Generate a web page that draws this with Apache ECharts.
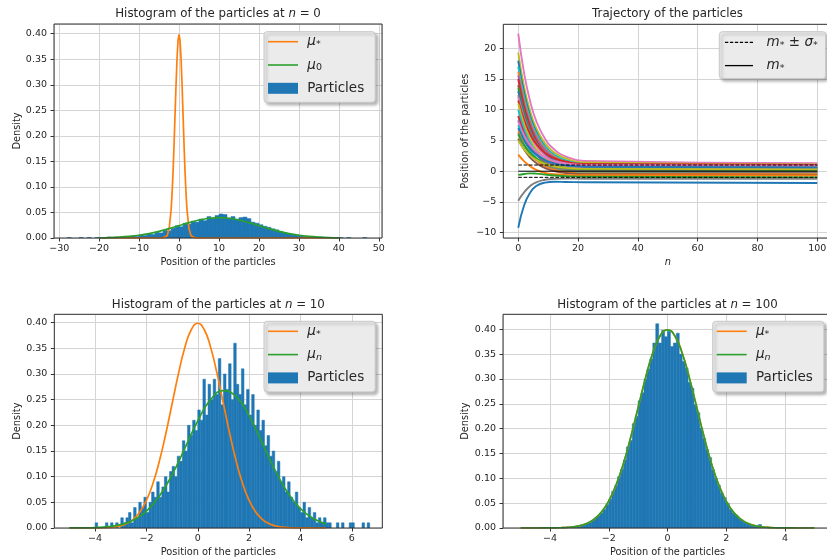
<!DOCTYPE html>
<html>
<head>
<meta charset="utf-8">
<script src="https://cdn.jsdelivr.net/npm/echarts@6/dist/echarts.min.js"></script>
<style>
  html, body { margin: 0; padding: 0; background: #fff; }
  #chart { width: 827px; height: 557px; }
</style>
</head>
<body>
<div id="chart"></div>
<script>
// ---------- data ----------

// top left: particles at n = 0 (bins of width 1 starting at -28)
const tlBinStart = -28;
const tlBinWidth = 1;
const tlHeights = [
  0.001, 0, 0, 0.001, 0, 0.001, 0, 0.001, 0.001, 0,
  0.002, 0.001, 0.002, 0.001, 0.003, 0.002, 0.004, 0.003, 0.006, 0.005,
  0.008, 0.007, 0.011, 0.010, 0.015, 0.014, 0.019, 0.024, 0.022, 0.029,
  0.027, 0.033, 0.031, 0.037, 0.034, 0.042, 0.038, 0.044, 0.047, 0.046,
  0.039, 0.042, 0.037, 0.040, 0.041, 0.038, 0.031, 0.029, 0.026, 0.023,
  0.021, 0.018, 0.016, 0.013, 0.011, 0.009, 0.007, 0.006, 0.005, 0.003,
  0.003, 0.002, 0.001, 0.002, 0.001, 0, 0.001, 0, 0.001, 0,
  0.001, 0, 0, 0, 0.001
];
const tlStarX = [-20, -10, -5, -4, -3.5, -3, -2.5, -2, -1.75, -1.5, -1.25, -1, -0.75, -0.5, -0.25, 0,
  0.25, 0.5, 0.75, 1, 1.25, 1.5, 1.75, 2, 2.5, 3, 3.5, 4, 5, 10, 20, 30, 40];
const tlStarY = [0, 0, 0, 0.0001, 0.0009, 0.0044, 0.0175, 0.054, 0.0863, 0.1295, 0.1826, 0.242, 0.3011, 0.3521, 0.3867, 0.3989,
  0.3867, 0.3521, 0.3011, 0.242, 0.1826, 0.1295, 0.0863, 0.054, 0.0175, 0.0044, 0.0009, 0.0001, 0, 0, 0, 0, 0];
const tlMu0X = [-20, -17.5, -15, -12.5, -10, -7.5, -5, -2.5, 0, 2.5, 5, 7.5, 10,
  12.5, 15, 17.5, 20, 22.5, 25, 27.5, 30, 32.5, 35, 37.5, 40];
const tlMu0Y = [0.0004, 0.0009, 0.0018, 0.0032, 0.0054, 0.0086, 0.0130, 0.0183, 0.0242, 0.0301, 0.0352, 0.0387, 0.0399,
  0.0387, 0.0352, 0.0301, 0.0242, 0.0183, 0.0130, 0.0086, 0.0054, 0.0032, 0.0018, 0.0009, 0.0004];

// bottom left: particles at n = 10 (bins of width 0.1 starting at -4)
const blBinStart = -4;
const blBinWidth = 0.1;
const blHeights = [
  0.01, 0, 0, 0, 0.01, 0, 0.01, 0, 0.01, 0,
  0.02, 0.01, 0.02, 0.03, 0.01, 0.04, 0.02, 0.05, 0.04, 0.06,
  0.03, 0.05, 0.07, 0.06, 0.09, 0.06, 0.08, 0.10, 0.07, 0.11,
  0.12, 0.10, 0.14, 0.13, 0.17, 0.15, 0.20, 0.18, 0.21, 0.19,
  0.23, 0.21, 0.29, 0.22, 0.28, 0.25, 0.29, 0.26, 0.33, 0.24,
  0.30, 0.27, 0.32, 0.25, 0.36, 0.28, 0.26, 0.31, 0.24, 0.27,
  0.22, 0.26, 0.20, 0.23, 0.19, 0.21, 0.16, 0.18, 0.14, 0.15,
  0.11, 0.13, 0.09, 0.10, 0.07, 0.09, 0.06, 0.05, 0.07, 0.04,
  0.03, 0.05, 0.02, 0.04, 0.02, 0.03, 0.01, 0.02, 0.01, 0.02,
  0.01, 0.01, 0, 0, 0.01, 0, 0.01, 0, 0, 0.01,
  0.01, 0, 0, 0, 0.01, 0, 0.01
];
const starX = [-5, -4.75, -4.5, -4.25, -4, -3.75, -3.5, -3.25, -3, -2.75, -2.5, -2.25, -2, -1.75, -1.5, -1.25, -1, -0.75, -0.5, -0.25, 0,
  0.25, 0.5, 0.75, 1, 1.25, 1.5, 1.75, 2, 2.25, 2.5, 2.75, 3, 3.25, 3.5, 3.75, 4, 4.25, 4.5, 4.75, 5];
const starY = [0, 0, 0, 0.0001, 0.0001, 0.0004, 0.0009, 0.002, 0.0044, 0.0091, 0.0175, 0.0317, 0.054, 0.0863, 0.1295, 0.1826, 0.242, 0.3011, 0.3521, 0.3867, 0.3989,
  0.3867, 0.3521, 0.3011, 0.242, 0.1826, 0.1295, 0.0863, 0.054, 0.0317, 0.0175, 0.0091, 0.0044, 0.002, 0.0009, 0.0004, 0.0001, 0.0001, 0, 0, 0];
const blMuNX = [-5, -4.5, -4, -3.5, -3, -2.5, -2, -1.5, -1, -0.5, 0, 0.5, 1, 1.5, 2, 2.5, 3, 3.5, 4, 4.5, 5];
const blMuNY = [0.0001, 0.0003, 0.0009, 0.0025, 0.0067, 0.0157, 0.033, 0.0619, 0.1039, 0.1558, 0.2088, 0.2501, 0.2675,
  0.2558, 0.2184, 0.1667, 0.1137, 0.0693, 0.0377, 0.0184, 0.008];

// bottom right: particles at n = 100 (bins of width 0.1 starting at -4)
const brBinStart = -4;
const brBinWidth = 0.1;
const brHeights = [
  0, 0, 0, 0, 0.002,
  0.001, 0.002, 0.003, 0.002, 0.004,
  0.005, 0.007, 0.008, 0.010, 0.014,
  0.020, 0.024, 0.030, 0.037, 0.047,
  0.058, 0.074, 0.085, 0.103, 0.118,
  0.137, 0.163, 0.176, 0.210, 0.225,
  0.256, 0.272, 0.300, 0.320, 0.340,
  0.372, 0.411, 0.372, 0.398, 0.385,
  0.396, 0.365, 0.372, 0.392, 0.350,
  0.335, 0.322, 0.293, 0.281, 0.248,
  0.232, 0.201, 0.180, 0.158, 0.142,
  0.117, 0.100, 0.086, 0.070, 0.061,
  0.050, 0.037, 0.030, 0.026, 0.019,
  0.016, 0.011, 0.009, 0.006, 0.005,
  0.004, 0.007, 0.002
];
const brMuNY = [0, 0, 0, 0.0001, 0.0001, 0.0004, 0.0009, 0.002, 0.0045, 0.0092, 0.0177, 0.032, 0.0544, 0.0868, 0.13, 0.1831, 0.2425, 0.3015, 0.3524, 0.3868, 0.3988,
  0.3864, 0.3516, 0.3005, 0.2414, 0.182, 0.129, 0.0858, 0.0536, 0.0314, 0.0173, 0.009, 0.0043, 0.002, 0.0009, 0.0004, 0.0001, 0.0001, 0, 0, 0];

// top right: trajectories sampled at these steps
const trajSteps = [0, 2, 4, 6, 9, 12, 16, 22, 100];
const trajValues = [
  [22.4, 15.84, 11.32, 8.20, 5.25, 3.56, 2.38, 1.66, 1.3],
  [19.3, 13.64, 9.75, 7.05, 4.50, 3.05, 2.03, 1.41, 1.1],
  [18.0, 12.65, 8.97, 6.42, 4.02, 2.64, 1.68, 1.09, 0.8],
  [17.0, 11.99, 8.55, 6.16, 3.91, 2.62, 1.72, 1.17, 0.9],
  [16.2, 11.38, 8.06, 5.77, 3.60, 2.36, 1.49, 0.96, 0.7],
  [15.6, 10.94, 7.73, 5.51, 3.41, 2.21, 1.37, 0.86, 0.6],
  [15.0, 10.40, 7.23, 5.04, 2.97, 1.78, 0.95, 0.45, 0.2],
  [14.0, 9.61, 6.60, 4.51, 2.54, 1.41, 0.62, 0.14, -0.1],
  [13.5, 9.43, 6.62, 4.68, 2.85, 1.80, 1.07, 0.62, 0.4],
  [13.0, 9.11, 6.44, 4.59, 2.84, 1.84, 1.14, 0.71, 0.5],
  [12.4, 8.79, 6.31, 4.59, 2.97, 2.04, 1.39, 1.00, 0.8],
  [12.0, 8.36, 5.86, 4.13, 2.49, 1.55, 0.90, 0.50, 0.3],
  [11.5, 8.23, 5.99, 4.43, 2.96, 2.12, 1.54, 1.18, 1.0],
  [11.0, 7.58, 5.23, 3.60, 2.06, 1.18, 0.56, 0.19, 0.0],
  [10.0, 6.83, 4.65, 3.14, 1.71, 0.89, 0.32, -0.03, -0.2],
  [9.0, 6.11, 4.12, 2.74, 1.44, 0.70, 0.17, -0.14, -0.3],
  [8.3, 5.75, 4.00, 2.78, 1.63, 0.98, 0.52, 0.24, 0.1],
  [8.0, 5.79, 4.27, 3.22, 2.23, 1.66, 1.26, 1.02, 0.9],
  [7.5, 5.04, 3.35, 2.18, 1.08, 0.45, 0.00, -0.27, -0.4],
  [7.0, 5.01, 3.64, 2.69, 1.80, 1.28, 0.93, 0.71, 0.6],
  [6.5, 4.32, 2.83, 1.79, 0.81, 0.25, -0.14, -0.38, -0.5],
  [6.2, 4.24, 2.89, 1.96, 1.08, 0.57, 0.22, 0.01, -0.1],
  [6.0, 4.20, 2.96, 2.10, 1.28, 0.82, 0.50, 0.30, 0.2],
  [5.3, 3.47, 2.20, 1.33, 0.50, 0.03, -0.30, -0.50, -0.6],
  [5.0, 3.54, 2.53, 1.84, 1.18, 0.80, 0.54, 0.38, 0.3],
  [2.7, 1.6, 0.8, 0.2, -0.3, -0.5, -0.6, -0.65, -0.7],
  [-0.6, -0.45, -0.35, -0.4, -0.55, -0.7, -0.8, -0.9, -1.0],
  [-4.8, -3.4, -2.4, -1.8, -1.4, -1.25, -1.2, -1.22, -1.25],
  [-9.2, -5.5, -3.5, -2.4, -1.85, -1.72, -1.75, -1.8, -1.92]
];
const trajColorIdx = [6, 8, 0, 9, 1, 4, 3, 5, 2, 0, 7, 6, 3, 8, 9, 3, 4, 6, 9, 0, 1, 7, 2, 5, 8, 1, 2, 7, 0];
const mStar = 0;
const sigmaStar = 1;
const stepRange = [0, 100];

// ---------- styling ----------
const FONT = 'DejaVu Sans';
const TEXT = '#262626';
const BLUE = '#1f77b4', ORANGE = '#ff7f0e', GREEN = '#2ca02c';
const tab10 = ['#1f77b4', '#ff7f0e', '#2ca02c', '#d62728', '#9467bd',
  '#8c564b', '#e377c2', '#7f7f7f', '#bcbd22', '#17becf'];

const LINE_ICON = 'path://M0,0H30V1.6H0Z';
const RECT_ICON = 'path://M0,0H30V11H0Z';
const SOLID_ICON = 'path://M0,0H28V1.3H0Z';
const DASH_ICON = 'path://M0,0h3.2v1.2h-3.2z M4.8,0h3.2v1.2h-3.2z M9.6,0h3.2v1.2h-3.2z M14.4,0h3.2v1.2h-3.2z M19.2,0h3.2v1.2h-3.2z M24,0h3.2v1.2h-3.2z';

const minus = v => (v < 0 ? '\u2212' + Math.abs(v) : String(v));
const twoDec = v => v.toFixed(2);

const pairs = (xs, ys) => xs.map((x, i) => [x, ys[i]]);
const bins = (start, width, heights) =>
  heights.map((h, i) => [start + i * width, start + (i + 1) * width, h]);

const grids = [
  { left: 54, top: 24, width: 328, height: 214 },
  { left: 503.3, top: 24.3, width: 328.9, height: 213.7 },
  { left: 54.3, top: 314.3, width: 328, height: 213.7 },
  { left: 503, top: 314.3, width: 329, height: 213.7 }
];

function makeAxis(gridIndex, dim, min, max, step, opts) {
  const isX = dim === 'x';
  return {
    type: 'value', gridIndex, min, max,
    minInterval: step, maxInterval: step,
    axisLine: { show: false, onZero: false },
    axisTick: { show: true, length: 3.5, lineStyle: { color: '#333', width: 1 } },
    axisLabel: {
      color: TEXT, fontFamily: FONT, fontSize: 9.5,
      margin: isX ? 6 : 7,
      formatter: opts.fmt,
      showMinLabel: opts.showMin,
      showMaxLabel: false
    },
    splitLine: { show: true, lineStyle: { color: '#d4d4d4', width: 1 } },
    name: opts.name,
    nameLocation: 'middle',
    nameGap: opts.gap,
    nameTextStyle: {
      color: TEXT, fontFamily: FONT, fontSize: 9.8,
      fontStyle: opts.italic ? 'italic' : 'normal'
    }
  };
}

function histSeries(name, idx, data) {
  return {
    type: 'custom', name, xAxisIndex: idx, yAxisIndex: idx,
    itemStyle: { color: BLUE }, silent: true, clip: true, z: 2,
    encode: { x: [0, 1], y: 2 },
    renderItem: (params, api) => {
      const a = api.coord([api.value(0), api.value(2)]);
      const b = api.coord([api.value(1), 0]);
      if (b[1] - a[1] <= 0) return null;
      return {
        type: 'rect',
        shape: { x: a[0], y: a[1], width: b[0] - a[0], height: b[1] - a[1] },
        style: { fill: BLUE, stroke: BLUE, lineWidth: 0.5 }
      };
    },
    data
  };
}

function lineSeries(name, idx, data, color, opts) {
  opts = opts || {};
  return {
    type: 'line', name, xAxisIndex: idx, yAxisIndex: idx, data,
    symbol: 'none', smooth: opts.smooth || false,
    color, itemStyle: { color },
    lineStyle: { color, width: opts.width || 1.7, type: opts.type || 'solid' },
    silent: true, z: opts.z || 3
  };
}

const legendText = {
  tlStar: '{t| }{g|μ}{s|*}', tlMu: '{t| }{g|μ}{s|0}', tlPart: '{t| Particles}',
  blStar: '{t| }{g|μ}{s|*}', blMu: '{t| }{g|μ}{si|n}', blPart: '{t| Particles}',
  brStar: '{t| }{g|μ}{s|*}', brMu: '{t| }{g|μ}{si|n}', brPart: '{t| Particles}',
  trBand: '{t|  }{g|m}{s|*}{t| ± }{g|σ}{s|*}', trM: '{t|  }{g|m}{s|*}'
};
const legendRich = {
  t: { fontFamily: FONT, fontSize: 13.5, color: TEXT, lineHeight: 16 },
  g: { fontFamily: FONT, fontSize: 13.5, fontStyle: 'italic', color: TEXT, lineHeight: 16 },
  s: { fontFamily: FONT, fontSize: 9.5, color: TEXT, lineHeight: 10, verticalAlign: 'bottom' },
  si: { fontFamily: FONT, fontSize: 9.5, fontStyle: 'italic', color: TEXT, lineHeight: 10, verticalAlign: 'bottom' }
};

function makeLegend(left, top, data, padding, itemWidth) {
  return {
    left, top, orient: 'vertical', padding, itemGap: 7.3,
    itemWidth, itemHeight: 14, symbolKeepAspect: true,
    backgroundColor: '#ebebeb', borderColor: '#c8c8c8', borderWidth: 1, borderRadius: 3,
    shadowColor: 'rgba(0,0,0,0.28)', shadowBlur: 3, shadowOffsetX: 2.5, shadowOffsetY: 2.5,
    selectedMode: false, z: 10,
    itemStyle: { borderWidth: 0 },
    data,
    formatter: n => legendText[n],
    textStyle: { fontFamily: FONT, fontSize: 13.5, color: TEXT, lineHeight: 16, rich: legendRich }
  };
}

const titleRich = {
  a: { fontFamily: FONT, fontSize: 11.8, color: TEXT, lineHeight: 14 },
  i: { fontFamily: FONT, fontSize: 11.8, fontStyle: 'italic', color: TEXT, lineHeight: 14 }
};
function makeTitle(text, left, top) {
  return {
    text, left, top, textAlign: 'center', padding: 0,
    textStyle: { fontFamily: FONT, fontSize: 11.8, fontWeight: 'normal', color: TEXT, rich: titleRich }
  };
}

// ---------- series ----------
const series = [
  histSeries('tlPart', 0, bins(tlBinStart, tlBinWidth, tlHeights)),
  lineSeries('tlStar', 0, pairs(tlStarX, tlStarY), ORANGE),
  lineSeries('tlMu', 0, pairs(tlMu0X, tlMu0Y), GREEN, { smooth: 0.4 }),

  histSeries('blPart', 2, bins(blBinStart, blBinWidth, blHeights)),
  lineSeries('blStar', 2, pairs(starX, starY), ORANGE, { smooth: 0.5 }),
  lineSeries('blMu', 2, pairs(blMuNX, blMuNY), GREEN, { smooth: 0.5 }),

  histSeries('brPart', 3, bins(brBinStart, brBinWidth, brHeights)),
  lineSeries('brStar', 3, pairs(starX, starY), ORANGE, { smooth: 0.5 }),
  lineSeries('brMu', 3, pairs(starX, brMuNY), GREEN, { smooth: 0.5, z: 4 })
];

trajValues.forEach((vals, k) => {
  series.push(lineSeries('traj' + k, 1, pairs(trajSteps, vals), tab10[trajColorIdx[k]],
    { smooth: 0.5, width: 1.9 }));
});
series.push(lineSeries('trBand', 1, stepRange.map(n => [n, mStar + sigmaStar]), '#000',
  { width: 1, type: [3.7, 1.6], z: 5 }));
series.push(lineSeries('trBand', 1, stepRange.map(n => [n, mStar - sigmaStar]), '#000',
  { width: 1, type: [3.7, 1.6], z: 5 }));
series.push(lineSeries('trM', 1, stepRange.map(n => [n, mStar]), '#000', { width: 1, z: 5 }));

// ---------- chart ----------
const chart = echarts.init(document.getElementById('chart'), null, { renderer: 'canvas' });
chart.setOption({
  animation: false,
  backgroundColor: '#ffffff',
  textStyle: { fontFamily: FONT },
  title: [
    makeTitle('{a|Histogram of the particles at }{i|n}{a| = 0}', 218, 7),
    makeTitle('{a|Trajectory of the particles}', 667.5, 7),
    makeTitle('{a|Histogram of the particles at }{i|n}{a| = 10}', 218.3, 298),
    makeTitle('{a|Histogram of the particles at }{i|n}{a| = 100}', 667.5, 298)
  ],
  grid: grids.map(g => Object.assign({
    show: true, borderColor: '#333', borderWidth: 1, z: 6,
    backgroundColor: 'transparent', containLabel: false, outerBoundsMode: 'none'
  }, g)),
  xAxis: [
    makeAxis(0, 'x', -31.3, 50.8, 10, { fmt: minus, showMin: false, name: 'Position of the particles', gap: 19 }),
    makeAxis(1, 'x', -5, 105, 20, { fmt: minus, showMin: false, name: 'n', italic: true, gap: 19 }),
    makeAxis(2, 'x', -5.59, 7.19, 2, { fmt: minus, showMin: false, name: 'Position of the particles', gap: 19 }),
    makeAxis(3, 'x', -5.6, 5.6, 2, { fmt: minus, showMin: false, name: 'Position of the particles', gap: 19 })
  ],
  yAxis: [
    makeAxis(0, 'y', 0, 0.419, 0.05, { fmt: twoDec, showMin: true, name: 'Density', gap: 32 }),
    makeAxis(1, 'y', -10.87, 23.9, 5, { fmt: minus, showMin: false, name: 'Position of the particles', gap: 33 }),
    makeAxis(2, 'y', 0, 0.4163, 0.05, { fmt: twoDec, showMin: true, name: 'Density', gap: 32 }),
    makeAxis(3, 'y', 0, 0.430, 0.05, { fmt: twoDec, showMin: true, name: 'Density', gap: 33 })
  ],
  legend: [
    makeLegend(264, 31.7, [
      { name: 'tlStar', icon: LINE_ICON },
      { name: 'tlMu', icon: LINE_ICON },
      { name: 'tlPart', icon: RECT_ICON }
    ], [2, 11, 6, 4], 30),
    makeLegend(264, 321.3, [
      { name: 'blStar', icon: LINE_ICON },
      { name: 'blMu', icon: LINE_ICON },
      { name: 'blPart', icon: RECT_ICON }
    ], [2, 11, 6, 4], 30),
    makeLegend(712.7, 321.3, [
      { name: 'brStar', icon: LINE_ICON },
      { name: 'brMu', icon: LINE_ICON },
      { name: 'brPart', icon: RECT_ICON }
    ], [2, 11, 6, 4], 30),
    makeLegend(719.3, 31.7, [
      { name: 'trBand', icon: DASH_ICON },
      { name: 'trM', icon: SOLID_ICON }
    ], [2.6, 8, 5, 5.7], 28)
  ],
  series
});
</script>
</body>
</html>
